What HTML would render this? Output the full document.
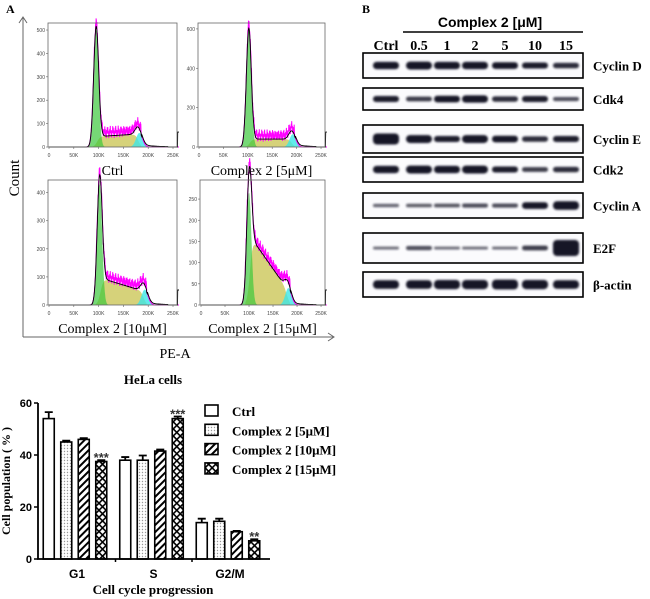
<!DOCTYPE html>
<html><head><meta charset="utf-8"><style>
body{margin:0;background:#fff}
svg{display:block}
text{font-family:"Liberation Serif",serif}
text.sans{font-family:"Liberation Sans",sans-serif}
.sm{font-family:"Liberation Sans",sans-serif;font-size:5px;fill:#444}
</style></head><body>
<svg id="fig" width="650" height="599" viewBox="0 0 650 599">
<defs>
<pattern id="dots" width="3" height="3" patternUnits="userSpaceOnUse"><rect width="3" height="3" fill="#fff"/><circle cx="1.5" cy="1.5" r="0.7" fill="#999"/></pattern>
<pattern id="hatch" width="5" height="5" patternUnits="userSpaceOnUse" patternTransform="rotate(45)"><rect width="5" height="5" fill="#fff"/><rect width="2" height="5" fill="#000"/></pattern>
<pattern id="cross" width="5" height="5" patternUnits="userSpaceOnUse" patternTransform="rotate(45)"><rect width="5" height="5" fill="#fff"/><rect width="1.6" height="5" fill="#000"/><rect width="5" height="1.6" fill="#000"/></pattern>
<filter id="blur" x="-20%" y="-100%" width="140%" height="300%"><feGaussianBlur stdDeviation="1.1"/></filter>
</defs>
<text x="6" y="13" font-weight="bold" font-size="12">A</text>
<text x="362" y="13" font-weight="bold" font-size="12">B</text>
<g id="hist"></g>
<line x1="23" y1="18" x2="23" y2="337" stroke="#666" stroke-width="1"/>
<polyline points="19,23 23,17 27,23" fill="none" stroke="#666"/>
<line x1="23" y1="337" x2="333" y2="337" stroke="#666"/>
<polyline points="328,333 334,337 328,341" fill="none" stroke="#666"/>
<text x="19" y="178" font-size="15" text-anchor="middle" transform="rotate(-90 19 178)">Count</text>
<text x="175" y="358" font-size="14" text-anchor="middle">PE-A</text>
<g id="bar"></g>
<g id="wb"></g>
</svg>
<script>
const NS='http://www.w3.org/2000/svg';
function mk(p,tag,at,txt){const e=document.createElementNS(NS,tag);for(const k in at)e.setAttribute(k,at[k]);if(txt!==undefined)e.textContent=txt;p.appendChild(e);return e;}

/* ---------- Histograms ---------- */
const histTitles=['Ctrl','Complex 2 [5μM]','Complex 2 [10μM]','Complex 2 [15μM]'];
const histYTicks=[[0,100,200,300,400,500],[0,200,400,600],[0,100,200,300,400],[0,50,100,150,200,250]];
const g1Center=[95,102,102,100];
const g1Height=[500,590,430,265];
const sStartLevel=[45,40,95,160];
const sEndLevel=[55,40,50,40];
const g2Center=[182,192,193,182];
const g2Height=[60,65,55,40];
const xTicks=['0','50K','100K','150K','200K','250K'];
const boxes=[{x0:48,x1:177,yt:23,yb:147,ymax:530,lab:170},{x0:198,x1:325,yt:23,yb:147,ymax:630,lab:170},
{x0:48,x1:177,yt:180,yb:305,ymax:445,lab:328},{x0:200,x1:325,yt:180,yb:305,ymax:295,lab:328}];
const H=document.getElementById('hist');
boxes.forEach((b,i)=>{
  const g=mk(H,'g',{});
  
  
  const xs=k=>b.x0+1+k*(b.x1-b.x0-4)/252;
  const ys=v=>b.yb-v*(b.yb-b.yt)/b.ymax;
  const comp=k=>{
    const g1=g1Height[i]*Math.exp(-Math.pow(k-g1Center[i],2)/(2*25));
    const a=g1Center[i]+4,e=g2Center[i]-4;
    let s=0;if(k>a-12&&k<e+8){const t=Math.min(1,Math.max(0,(k-a)/(e-a)));s=(sStartLevel[i]+(sEndLevel[i]-sStartLevel[i])*t);
      s*=1/(1+Math.exp(-(k-a+2)/3))*1/(1+Math.exp((k-e-2)/3));}
    const g2=g2Height[i]*Math.exp(-Math.pow(k-g2Center[i],2)/(2*42));
    return [g1,s,g2];};
  const ks=[];for(let k=0;k<=262;k+=0.5)ks.push(k);
  const poly=(f,fill,name)=>{let d='M'+xs(0)+','+ys(0);ks.forEach(k=>d+='L'+xs(k).toFixed(1)+','+ys(f(k)).toFixed(1));d+='L'+xs(262)+','+ys(0)+'Z';
    const p=mk(g,'path',{d:d,fill:fill});};
  poly(k=>{const c=comp(k);return c[1];},'#d6d27a','s-phase-fill');
  poly(k=>comp(k)[0],'rgba(60,200,60,0.7)','g1-fill');
  poly(k=>comp(k)[2],'rgba(60,230,230,0.8)','g2-fill');
  let dm='';ks.forEach((k,j)=>{const c=comp(k);let v=c[0]+c[1]+c[2];if(c[1]>5)v+=(Math.sin(k*5.1)*0.6+Math.sin(k*13.7)*0.4)*b.ymax*0.05+b.ymax*0.03;dm+=(j?'L':'M')+xs(k).toFixed(1)+','+ys(v).toFixed(1);});
  const pm=mk(g,'path',{d:dm,fill:'none',stroke:'#ff00ff','stroke-width':1});
  let db='';ks.forEach((k,j)=>{const c=comp(k);let v=c[0]+c[1]+c[2];if(k>g2Center[i]+5&&k<240)v+=b.ymax*0.02*Math.exp(-(k-g2Center[i])/30);if(k>259)v+=b.ymax*0.12;db+=(j?'L':'M')+xs(k).toFixed(1)+','+ys(v).toFixed(1);});
  const pb=mk(g,'path',{d:db,fill:'none',stroke:'#000','stroke-width':0.9});
  const r=mk(g,'rect',{x:b.x0,y:b.yt,width:b.x1-b.x0,height:b.yb-b.yt,fill:'none',stroke:'#666','stroke-width':0.8});
  histYTicks[i].forEach(t=>{const y=ys(t);mk(g,'line',{x1:b.x0-2,x2:b.x0,y1:y,y2:y,stroke:'#666','stroke-width':0.6});
    const tx=mk(g,'text',{x:b.x0-3,y:y+2,class:'sm','text-anchor':'end'},t);});
  xTicks.forEach((t,j)=>{const x=xs(j*50);mk(g,'line',{x1:x,x2:x,y1:b.yb,y2:b.yb+2,stroke:'#666','stroke-width':0.6});
    const tx=mk(g,'text',{x:x,y:b.yb+10,class:'sm','text-anchor':'middle'},t);});
  const tt=mk(g,'text',{x:(b.x0+b.x1)/2,y:b.lab+5,'font-size':14,'text-anchor':'middle'},histTitles[i]);
});

/* ---------- Bar chart ---------- */
const groups=['G1','S','G2/M'];
const seriesNames=['Ctrl','Complex 2 [5μM]','Complex 2 [10μM]','Complex 2 [15μM]'];
const ctrlVals=[54,38,14];
const c5Vals=[45,38,14.5];
const c10Vals=[46,41.5,10.5];
const c15Vals=[37.5,54,7];
const ctrlErr=[2.5,1.2,1.5];
const c5Err=[0.5,1.8,1];
const c10Err=[0.5,0.6,0.3];
const c15Err=[0.5,0.8,0.6];
const stars=[['','','','***'],['','','','***'],['','','','**']];
const yTickVals=[0,20,40,60];
const B=document.getElementById('bar');
const fills=['#fff','url(#dots)','url(#hatch)','url(#cross)'];
const allVals=[ctrlVals,c5Vals,c10Vals,c15Vals],allErr=[ctrlErr,c5Err,c10Err,c15Err];
const yB=v=>559-v*156/60, gx=i=>77+i*76.5;
const t1=mk(B,'text',{x:153,y:384,'font-size':13,'font-weight':'bold','text-anchor':'middle'},'HeLa cells');

groups.forEach((gname,gi)=>{for(let s=0;s<4;s++){const cx=gx(gi)+(s-1.5)*17.5-2,v=allVals[s][gi],e=allErr[s][gi];
  const ln=mk(B,'path',{d:`M${cx},${yB(v)}V${yB(v+e)}M${cx-4},${yB(v+e)}H${cx+4}`,stroke:'#000','stroke-width':1.8,fill:'none'});
  
  const r=mk(B,'rect',{x:cx-5.5,y:yB(v),width:11,height:yB(0)-yB(v),fill:fills[s],stroke:'#000','stroke-width':1.6});
  
  if(stars[gi][s]){const st=mk(B,'text',{x:cx,y:yB(v+e)+2,'font-size':13,'font-weight':'bold','text-anchor':'middle',class:'sans',fill:'#333'},stars[gi][s]);
    }
 }
 const gl=mk(B,'text',{x:gx(gi),y:578,'font-size':12,'font-weight':'bold','text-anchor':'middle',class:'sans'},gname);
 });
const ax=mk(B,'path',{d:'M38,403V559H270',fill:'none',stroke:'#000','stroke-width':1.8});
yTickVals.forEach(t=>{mk(B,'line',{x1:34,x2:38,y1:yB(t),y2:yB(t),stroke:'#000','stroke-width':1.5});
  const tx=mk(B,'text',{x:32,y:yB(t)+4,'font-size':11,'font-weight':'bold','text-anchor':'end',class:'sans'},t);
  });
[1,2].forEach(i=>mk(B,'line',{x1:gx(i)-38,x2:gx(i)-38,y1:559,y2:562,stroke:'#000','stroke-width':1.5}));
const yl=mk(B,'text',{x:10,y:481,'font-size':12,'font-weight':'bold','text-anchor':'middle',transform:'rotate(-90 10 481)'},'Cell population ( % )');

const xl=mk(B,'text',{x:153,y:594,'font-size':13,'font-weight':'bold','text-anchor':'middle'},'Cell cycle progression');

seriesNames.forEach((n,s)=>{const y=411+s*19.3;
  const r=mk(B,'rect',{x:205,y:y-6,width:13,height:11,fill:fills[s],stroke:'#000','stroke-width':1.6});
  const t=mk(B,'text',{x:232,y:y+5,'font-size':13,'font-weight':'bold'},n);});

/* ---------- Western blot ---------- */
const lanes=['Ctrl','0.5','1','2','5','10','15'];
const proteins=['Cyclin D','Cdk4','Cyclin E','Cdk2','Cyclin A','E2F','β-actin'];
const bandCyclinD=[5,5.5,5,5,4.5,4,3.5];
const bandCdk4=[4,3,4.5,5,3.5,4,2.5];
const bandCyclinE=[8,5.5,4,5.5,4.5,3.5,4];
const bandCdk2=[5,5.5,5,5.5,4,3,3.5];
const bandCyclinA=[1.8,2,2.2,2.5,2.5,4.5,6];
const bandE2F=[1.5,2.5,1.5,1.5,1.5,3,12];
const bandActin=[6,6,6.5,6.5,7,6.5,6];
const bands=[bandCyclinD,bandCdk4,bandCyclinE,bandCdk2,bandCyclinA,bandE2F,bandActin];
const rows=[[53,78],[88,110],[125,153],[157,182],[193,218],[233,263],[272,297]];
const laneX=[386,419,447,475,505,535,566];
const W=document.getElementById('wb');
const h1=mk(W,'text',{x:490,y:27,'font-size':14,'font-weight':'bold','text-anchor':'middle',class:'sans'},'Complex 2 [μM]');

mk(W,'line',{x1:403,x2:583,y1:32,y2:32,stroke:'#000','stroke-width':1.5});
lanes.forEach((l,i)=>{const t=mk(W,'text',{x:laneX[i],y:50,'font-size':14,'font-weight':'bold','text-anchor':'middle'},l);});
rows.forEach((r,ri)=>{const g=mk(W,'g',{});
  mk(g,'rect',{x:363,y:r[0],width:220,height:r[1]-r[0],fill:'#fbfbfd',stroke:'#000','stroke-width':1.6});
  const cy=(r[0]+r[1])/2;
  bands[ri].forEach((t,li)=>{const h=t*1.25+1;const b=mk(g,'rect',{x:laneX[li]-13,y:cy-h/2,width:26,height:h,rx:Math.min(4,h/2),fill:'#151525',filter:'url(#blur)',opacity:Math.min(1,0.4+t/7)});
    });
  const pl=mk(g,'text',{x:593,y:cy+5,'font-size':13,'font-weight':'bold'},proteins[ri]);
});
</script>
</body></html>
